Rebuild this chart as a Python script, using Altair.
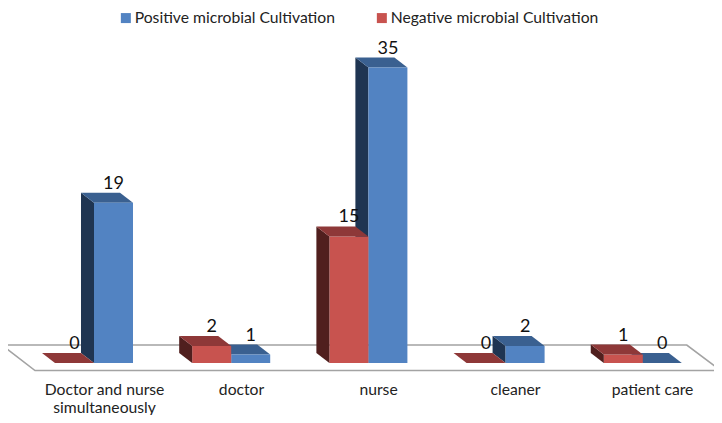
import altair as alt
import pandas as pd

categories = ["Doctor and nurse\nsimultaneously", "doctor", "nurse", "cleaner", "patient care"]
positive = [19, 1, 35, 2, 0]
negative = [0, 2, 15, 0, 1]
POS = "Positive microbial Cultivation"
NEG = "Negative microbial Cultivation"

BAR_W = 0.2843
DX = 0.0948
DY = 1.185
FONT = "Lato"

x_scale = alt.Scale(domain=[-0.6268, 4.519], nice=False, zero=False)
y_scale = alt.Scale(domain=[-6.161, 42.06], nice=False, zero=False)
X = lambda f: alt.X(f, type="quantitative", scale=x_scale, axis=None)
Y = lambda f: alt.Y(f, type="quantitative", scale=y_scale, axis=None)


def frames(values, series):
    front, side, top, label = [], [], [], []
    for i, v in enumerate(values):
        l = i if series == POS else i - BAR_W
        r = l + BAR_W
        front.append(dict(l=l, r=r, v=v, base=0, series=series))
        side += [dict(bar=i, x=l - DX, y=v + DY, y2=DY), dict(bar=i, x=l, y=v, y2=0)]
        top += [dict(bar=i, y=v, x=l, x2=r), dict(bar=i, y=v + DY, x=l - DX, x2=r - DX)]
        label.append(dict(x=(l + r) / 2, v=v))
    return map(pd.DataFrame, (front, side, top, label))


fp, sp, tp, lp = frames(positive, POS)
fn, sn, tn, ln = frames(negative, NEG)


def side_layer(df, color):
    return alt.Chart(df).mark_area(color=color, strokeWidth=0).encode(
        x=X("x"), y=Y("y"), y2="y2", detail="bar:N")


def top_layer(df, color):
    return alt.Chart(df).mark_area(color=color, orient="horizontal", strokeWidth=0).encode(
        y=Y("y"), x=X("x"), x2="x2", detail="bar:N")


floor_df = pd.DataFrame(dict(
    order=[0, 1, 2, 3, 4],
    x=[-0.6706, 4.3207, 4.5685, -0.4300, -0.6706],
    y=[2.13, 2.13, -0.89, -0.89, 2.13],
))
floor = alt.Chart(floor_df).mark_line(color="#a3a3a3", strokeWidth=1.6, clip=True).encode(
    x=X("x"), y=Y("y"), order="order:Q")

fronts = alt.Chart(pd.concat([fp, fn])).mark_rect(strokeWidth=0).encode(
    x=X("l"), x2="r", y=Y("v"), y2="base",
    color=alt.Color("series:N",
                    scale=alt.Scale(domain=[POS, NEG], range=["#5283c2", "#c8534f"]),
                    legend=alt.Legend(
                        title=None, orient="none", legendX=110, legendY=2,
                        direction="horizontal", symbolType="square", symbolSize=100,
                        labelFont=FONT, labelFontSize=15.7, labelColor="#222222",
                        columnPadding=39, symbolStrokeWidth=0, labelOffset=1,
                        labelLimit=300)),
)

labels = alt.Chart(pd.concat([lp, ln])).mark_text(
    dy=-19, font=FONT, fontSize=18, color="#111111", baseline="middle", align="center"
).encode(x=X("x"), y=Y("v"), text=alt.Text("v:Q"))

cat_df = pd.DataFrame(dict(x=[0.077 + i * 0.9985 for i in range(5)], y=[-3.2] * 5,
                           t=categories))
cats = alt.Chart(cat_df).mark_text(
    font=FONT, fontSize=15.7, color="#222222", baseline="middle", align="center",
    lineBreak="\n", lineHeight=17.5
).encode(x=X("x"), y=Y("y"), text="t:N")

chart = alt.layer(
    floor,
    side_layer(sp, "#1f3552"), top_layer(tp, "#3a6090"),
    fronts,
    side_layer(sn, "#501f1e"), top_layer(tn, "#8e3838"),
    labels, cats,
).properties(
    width=706, height=407, padding=0,
    autosize=alt.AutoSizeParams(type="none"),
    background="white",
).configure_view(stroke=None)

chart.save("out.html", embed_options={"renderer": "svg", "actions": False})
